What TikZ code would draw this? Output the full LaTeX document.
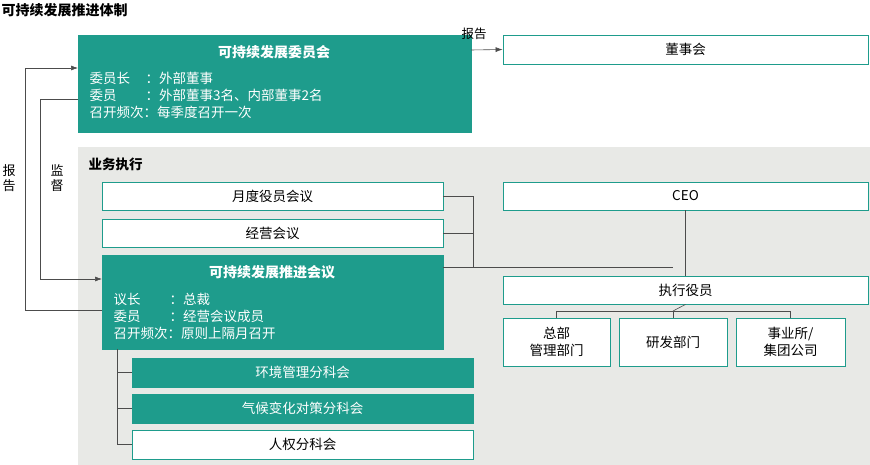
\documentclass[tikz,border=0pt]{standalone}
\usepackage{fontspec}
\setmainfont{Noto Sans CJK SC}
\usetikzlibrary{arrows.meta}
\definecolor{teal}{HTML}{1E9C8C}
\definecolor{panel}{HTML}{E8E9E6}
\tikzset{
  darkbox/.style={draw=teal,fill=teal,text=white,inner sep=0pt},
  lightbox/.style={draw=teal,fill=white,line width=0.8pt,inner sep=0pt},
  link/.style={draw=black!70,line width=0.6pt},
  report/.style={link,-{Latex[length=7pt,width=5pt]}},
}
\begin{document}
\begin{tikzpicture}[x=1pt,y=-1pt,font=\fontsize{13.5}{17}\selectfont]
\useasboundingbox (0,0) rectangle (870,465);
% Title and panel
\node[anchor=west,font=\fontsize{14}{16}\selectfont\bfseries] (title) at (-2,10) {可持续发展推进体制};
\fill[panel] (78,147) rectangle (870,465);
\node[anchor=west,font=\fontsize{13.5}{16}\selectfont\bfseries] (exec) at (85,164) {业务执行};
% Committee
\draw[darkbox] (78,35) rectangle (471,132);
\coordinate (cmtW) at (78,68); \coordinate (cmtS) at (78,99); \coordinate (cmtE) at (471,50);
\node[text=white,font=\fontsize{14}{16}\selectfont\bfseries] (cmt) at (274,52) {可持续发展委员会};
\node[text=white,anchor=north west,align=left] (cmtinfo) at (86,69)
  {\makebox[56pt][l]{委员长}：外部董事\\\makebox[56pt][l]{委员}：外部董事3名、内部董事2名\\召开频次：每季度召开一次};
\node[lightbox,minimum width=365pt,minimum height=29pt] (board) at (685.5,49.5) {董事会};
% Execution boxes
\node[lightbox,minimum width=341pt,minimum height=28pt] (monthly) at (272.5,196) {月度役员会议};
\node[lightbox,minimum width=341pt,minimum height=28pt] (mgmt) at (272.5,233) {经营会议};
\draw[darkbox] (102,255) rectangle (443,349);
\coordinate (proW) at (102,279); \coordinate (proR) at (102,310); \coordinate (proE) at (443,267);
\node[text=white,font=\fontsize{14}{16}\selectfont\bfseries] (pro) at (272,272) {可持续发展推进会议};
\node[text=white,anchor=north west,align=left] (proinfo) at (110,290)
  {\makebox[56pt][l]{议长}：总裁\\\makebox[56pt][l]{委员}：经营会议成员\\召开频次：原则上隔月召开};
\node[lightbox,minimum width=365pt,minimum height=28pt] (ceo) at (685.5,196) {CEO};
\node[lightbox,minimum width=365pt,minimum height=28pt] (officer) at (685.5,290) {执行役员};
\node[lightbox,minimum width=107pt,minimum height=48pt,align=center] (hq) at (556.5,342) {总部\\管理部门};
\node[lightbox,minimum width=108pt,minimum height=48pt] (rnd) at (673,342) {研发部门};
\node[lightbox,minimum width=109pt,minimum height=48pt,align=center] (biz) at (790.5,342) {事业所/\\集团公司};
% Subcommittees
\node[darkbox,minimum width=341pt,minimum height=29pt] (env) at (302.5,372.5) {环境管理分科会};
\node[darkbox,minimum width=341pt,minimum height=29pt] (clim) at (302.5,408.5) {气候变化对策分科会};
\node[lightbox,minimum width=341pt,minimum height=29pt] (hr) at (302.5,444.5) {人权分科会};
% Connectors
\draw[report] (cmtE) -- (board.west);
\node[font=\fontsize{12.5}{14}\selectfont] (lblboard) at (474,34) {报告};
\draw[report] (proR) -- (25,310) -- (25,68) -- (cmtW);
\draw[report] (cmtS) -- (40,99) -- (40,279) -- (proW);
\node[align=center,font=\fontsize{13}{15}\selectfont] (lblrep) at (9,178) {报\\告};
\node[align=center,font=\fontsize{13}{15}\selectfont] (lblsup) at (57,178) {监\\督};
\draw[link] (monthly.east) -| (473,267);
\draw[link] (mgmt.east) -- (473,233);
\draw[link] (proE) -- (673,267);
\draw[link] (ceo.south) -- (officer.north);
\draw[link] (officer.south) -- (673,311);
\draw[link] (hq.north) |- (biz.north |- 0,311) -- (biz.north);
\draw[link] (rnd.north) -- (673,311);
\draw[link] (117,349) |- (hr.west);
\draw[link] (117,372.5) -- (env.west);
\draw[link] (117,408.5) -- (clim.west);
\end{tikzpicture}
\end{document}
